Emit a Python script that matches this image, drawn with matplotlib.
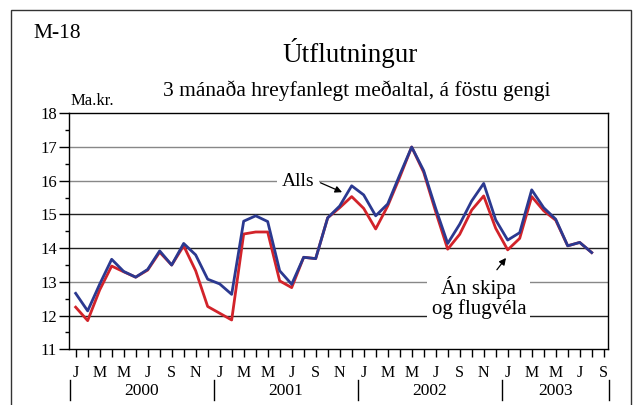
import matplotlib
matplotlib.use('Agg')
import matplotlib.pyplot as plt
from matplotlib.patches import Rectangle

plt.rcParams['font.family'] = ['Liberation Serif', 'DejaVu Serif']

# Monthly values, Jan 2000 - Aug 2003 (3 month moving average, Ma.kr.)
alls = [12.66, 12.14, 12.93, 13.67, 13.31, 13.14, 13.37, 13.92, 13.50, 14.14, 13.80, 13.08,
        12.94, 12.63, 14.80, 14.96, 14.79, 13.33, 12.93, 13.73, 13.69, 14.90, 15.25, 15.85,
        15.58, 14.96, 15.31, 16.17, 17.00, 16.30, 15.18, 14.14, 14.71, 15.40, 15.92, 14.84,
        14.24, 14.46, 15.73, 15.20, 14.86, 14.07, 14.17, 13.87]
an_skipa = [12.25, 11.85, 12.76, 13.47, 13.30, 13.14, 13.35, 13.88, 13.50, 14.07, 13.33, 12.27,
            12.07, 11.87, 14.42, 14.48, 14.48, 13.03, 12.83, 13.73, 13.69, 14.90, 15.20, 15.53,
            15.18, 14.57, 15.25, 16.10, 17.00, 16.25, 15.08, 13.97, 14.41, 15.13, 15.55, 14.59,
            13.95, 14.29, 15.53, 15.11, 14.83, 14.07, 14.17, 13.87]
month_labels = ['J', 'M', 'M', 'J', 'S', 'N']
years = ['2000', '2001', '2002', '2003']
n_ticks = 45  # Jan 2000 - Sep 2003

fig = plt.figure(figsize=(6.37, 4.05), dpi=100)
ax = fig.add_axes([0.1088, 0.1375, 0.8457, 0.5827])

# outer frame
fig.patches.append(Rectangle((10.5 / 637, -0.05), 620 / 637, 1 - 10 / 405 + 0.05,
                             transform=fig.transFigure, fill=False, lw=1.0, ec='#333333'))

# gridlines
grid_cols = {12: '#222222', 13: '#888888', 14: '#222222', 15: '#222222', 16: '#888888', 17: '#888888'}
for yv, c in grid_cols.items():
    ax.axhline(yv, color=c, lw=1.0, zorder=1)

x = list(range(len(alls)))
ax.plot(x, an_skipa, color='#d2232a', lw=2.0, zorder=3)
ax.plot(x, alls, color='#2b3990', lw=2.0, zorder=4)

ax.set_xlim(-0.53, 44.36)
ax.set_ylim(11, 18)
ax.set_yticks(range(11, 19))
ax.set_yticks([v + 0.5 for v in range(11, 18)], minor=True)
ax.tick_params(axis='y', which='major', direction='out', length=7, width=1, labelsize=12, pad=2)
ax.tick_params(axis='y', which='minor', direction='out', length=3, width=1)
ax.set_xticks(range(n_ticks))
ax.set_xticklabels([month_labels[(i % 12) // 2] if i % 2 == 0 else '' for i in range(n_ticks)])
ax.tick_params(axis='x', direction='out', length=6, width=1, labelsize=11.5, pad=5)
for s in ax.spines.values():
    s.set_linewidth(1.0)

# year labels and separators
for k, yr in enumerate(years):
    start = k * 12 - 0.5
    end = min(start + 12, 44.45)
    ax.text((start + end) / 2, -0.178, yr, transform=ax.get_xaxis_transform(),
            ha='center', va='center', fontsize=12.5)
for b in [-0.5, 11.5, 23.5, 35.5, 44.45]:
    ax.plot([b, b], [-0.13, -0.215], transform=ax.get_xaxis_transform(),
            color='black', lw=1, clip_on=False)

# annotations
ax.text(18.55, 15.98, 'Alls', fontsize=14, ha='center', va='center', zorder=5,
        bbox=dict(boxstyle='square,pad=0.25', fc='white', ec='none'))
ax.annotate('', xy=(22.2, 15.66), xytext=(20.4, 15.94),
            arrowprops=dict(arrowstyle='-|>', color='black', lw=0.9, mutation_scale=10,
                            shrinkA=0, shrinkB=0))
ax.text(33.6, 12.54, 'Án skipa\nog flugvéla', fontsize=15, ha='center', va='center',
        linespacing=1.05, zorder=5,
        bbox=dict(boxstyle='square,pad=0.2', fc='white', ec='none'))
ax.annotate('', xy=(35.86, 13.71), xytext=(35.1, 13.36),
            arrowprops=dict(arrowstyle='-|>', color='black', lw=0.9, mutation_scale=10,
                            shrinkA=0, shrinkB=0))

# titles
fig.text(33 / 637, 1 - 33 / 405, 'M-18', fontsize=15.5, ha='left', va='center')
fig.text(350 / 637, 1 - 53 / 405, 'Útflutningur', fontsize=19.5, ha='center', va='center')
fig.text(357 / 637, 1 - 91 / 405, '3 mánaða hreyfanlegt meðaltal, á föstu gengi',
         fontsize=15.5, ha='center', va='center')
fig.text(71 / 637, 1 - 101 / 405, 'Ma.kr.', fontsize=12, ha='left', va='center')

fig.savefig('out.png', dpi=100)
